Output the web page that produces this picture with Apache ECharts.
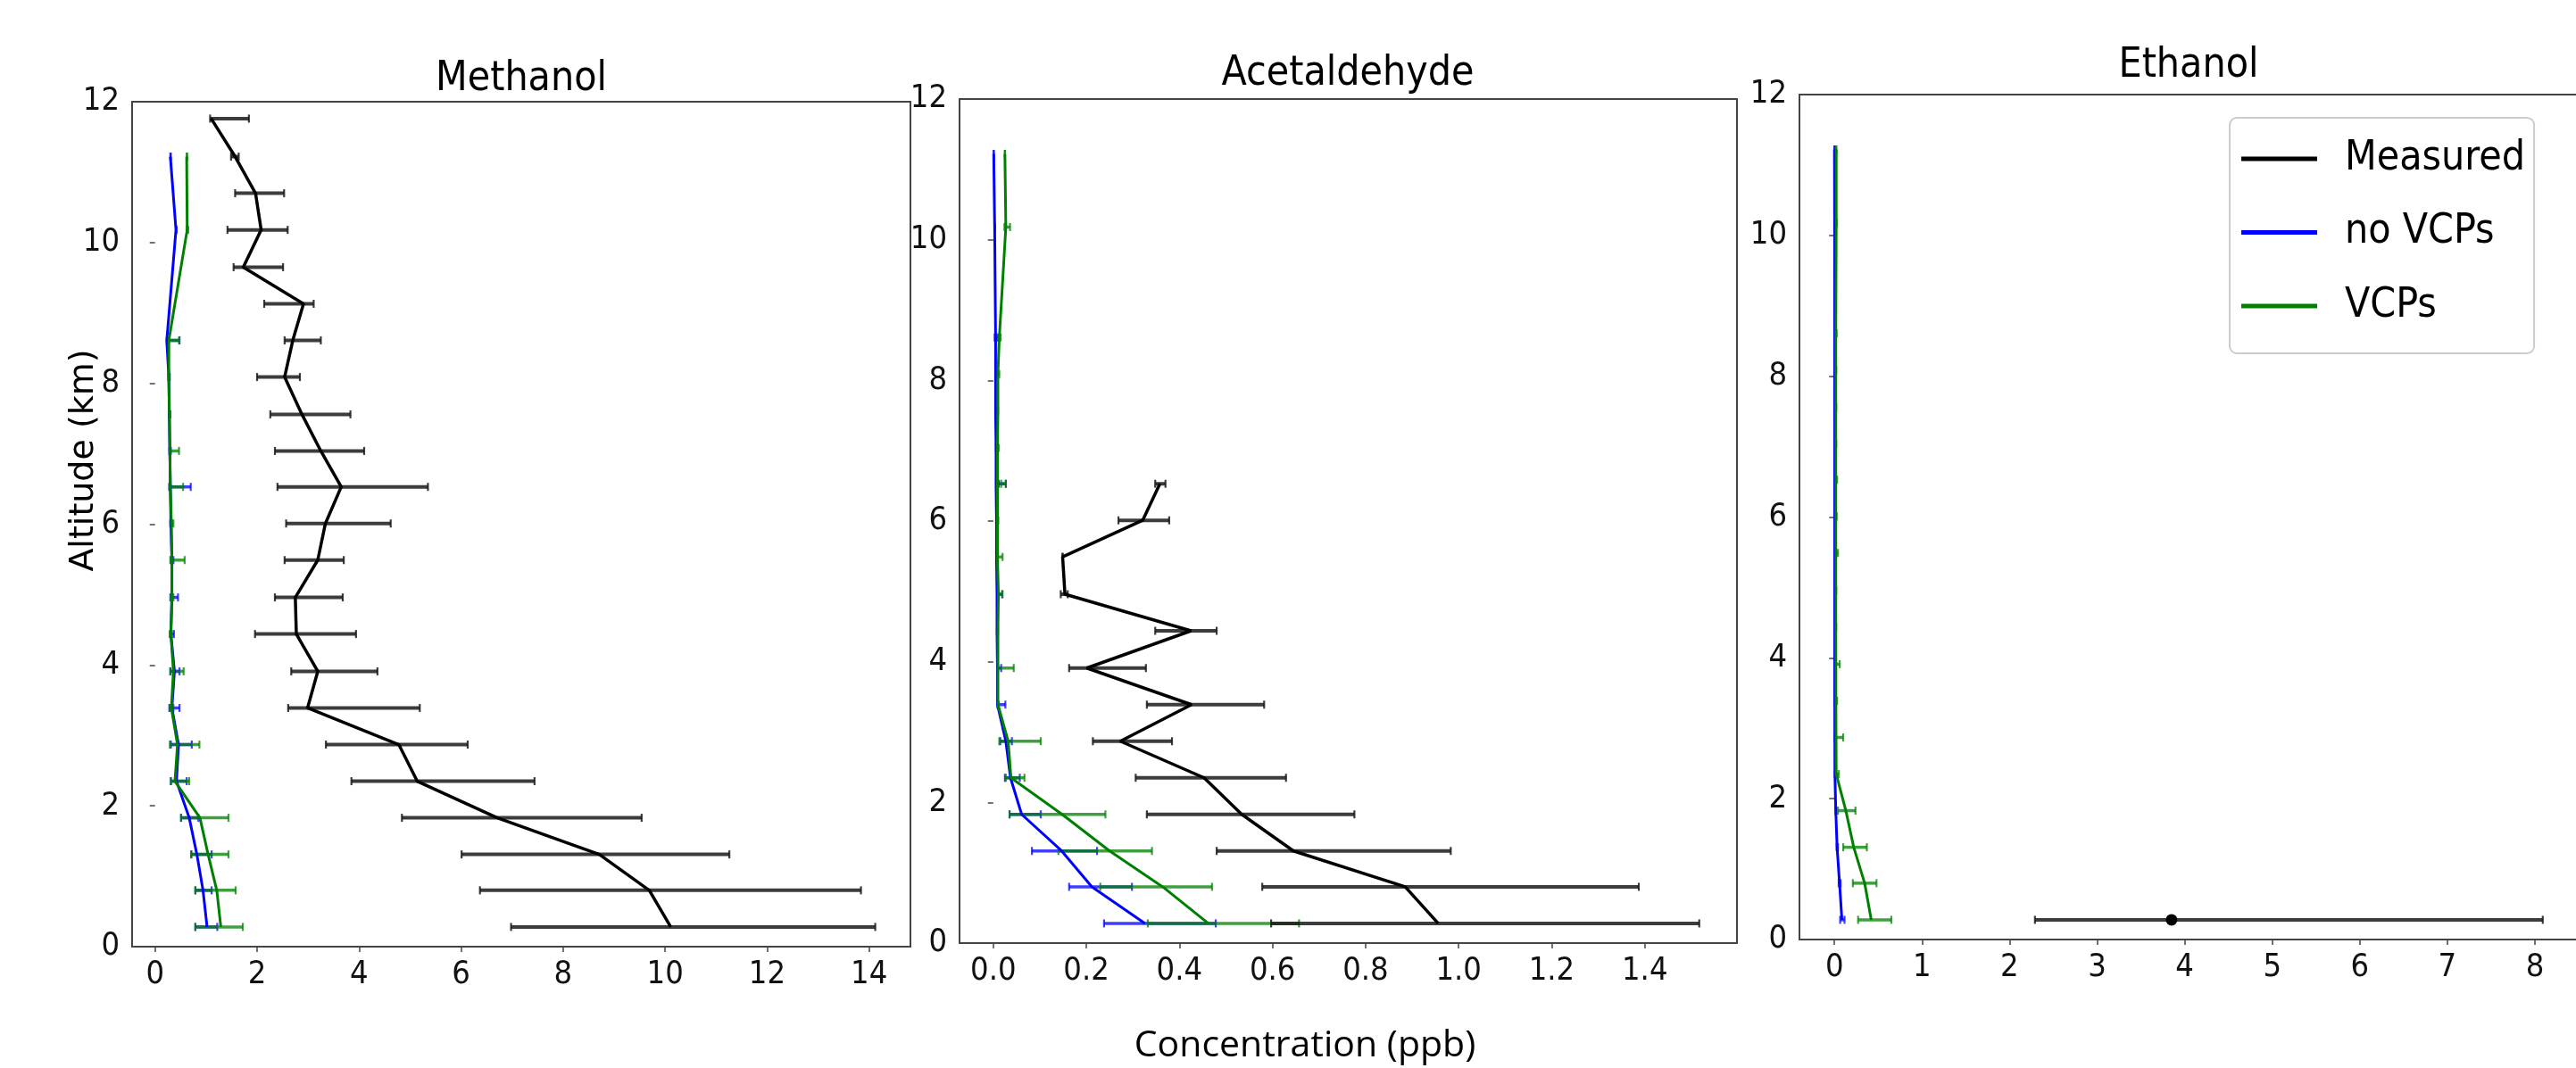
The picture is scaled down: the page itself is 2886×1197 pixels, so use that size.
<!DOCTYPE html>
<html>
<head>
<meta charset="utf-8">
<script src="https://cdn.jsdelivr.net/npm/echarts@6/dist/echarts.min.js"></script>
<style>
html,body{margin:0;padding:0;background:#fff;}
#chart{width:2886px;height:1197px;}
</style>
</head>
<body>
<div id="chart"></div>
<script>
// ---------------- data (altitude in km, concentration in ppb) ----------------
const altMeasured = [0.28, 0.80, 1.31, 1.83, 2.35, 2.87, 3.39, 3.91, 4.44, 4.96, 5.49, 6.01, 6.53, 7.04, 7.56, 8.09, 8.61, 9.13, 9.65, 10.18, 10.70, 11.22, 11.76];
const altModel = [0.28, 0.80, 1.31, 1.83, 2.35, 2.87, 3.39, 3.91, 4.44, 4.96, 5.49, 6.01, 6.53, 7.04, 7.56, 8.09, 8.61, 10.18, 11.22];
const altEthanolMeasured = [0.28];

// Methanol
const methMeas   = [10.11, 9.69, 8.71, 6.71, 5.14, 4.78, 2.99, 3.19, 2.77, 2.75, 3.19, 3.34, 3.65, 3.25, 2.88, 2.54, 2.70, 2.91, 1.73, 2.08, 1.97, 1.57, 1.10];
const methMeasLo = [6.98, 6.37, 6.01, 4.84, 3.85, 3.35, 2.61, 2.67, 1.96, 2.35, 2.54, 2.57, 2.40, 2.35, 2.26, 2.00, 2.54, 2.14, 1.54, 1.42, 1.57, 1.49, 1.08];
const methMeasHi = [14.12, 13.84, 11.26, 9.54, 7.44, 6.13, 5.19, 4.36, 3.94, 3.68, 3.70, 4.62, 5.35, 4.10, 3.83, 2.84, 3.25, 3.11, 2.51, 2.60, 2.53, 1.64, 1.84];
const methNoVCP   = [1.02, 0.94, 0.82, 0.67, 0.42, 0.46, 0.33, 0.38, 0.31, 0.33, 0.33, 0.31, 0.30, 0.29, 0.28, 0.27, 0.23, 0.41, 0.30];
const methNoVCPLo = [0.79, 0.79, 0.71, 0.51, 0.31, 0.31, 0.28, 0.30, 0.29, 0.30, 0.31, 0.30, 0.28, 0.28, 0.27, 0.26, 0.23, 0.41, 0.30];
const methNoVCPHi = [1.22, 1.11, 1.11, 0.85, 0.62, 0.72, 0.48, 0.48, 0.37, 0.45, 0.36, 0.33, 0.70, 0.31, 0.29, 0.28, 0.48, 0.42, 0.31];
const methVCP   = [1.29, 1.21, 1.04, 0.88, 0.39, 0.44, 0.32, 0.36, 0.31, 0.33, 0.33, 0.32, 0.30, 0.29, 0.28, 0.27, 0.27, 0.63, 0.62];
const methVCPLo = [0.79, 0.79, 0.71, 0.51, 0.31, 0.29, 0.30, 0.30, 0.30, 0.31, 0.30, 0.30, 0.28, 0.29, 0.28, 0.27, 0.27, 0.62, 0.62];
const methVCPHi = [1.72, 1.58, 1.44, 1.44, 0.67, 0.87, 0.36, 0.56, 0.33, 0.36, 0.58, 0.36, 0.55, 0.47, 0.30, 0.29, 0.47, 0.65, 0.63];

// Acetaldehyde
const acetMeas   = [0.956, 0.885, 0.645, 0.534, 0.453, 0.273, 0.426, 0.201, 0.425, 0.154, 0.149, 0.321, 0.358];
const acetMeasLo = [0.597, 0.578, 0.480, 0.330, 0.306, 0.214, 0.330, 0.163, 0.348, 0.145, 0.149, 0.269, 0.348];
const acetMeasHi = [1.517, 1.387, 0.983, 0.776, 0.629, 0.384, 0.582, 0.328, 0.480, 0.160, 0.149, 0.378, 0.370];
const acetNoVCP   = [0.326, 0.212, 0.147, 0.061, 0.037, 0.027, 0.009, 0.009, 0.008, 0.008, 0.007, 0.007, 0.006, 0.006, 0.005, 0.005, 0.005, 0.003, 0.001];
const acetNoVCPLo = [0.238, 0.163, 0.083, 0.035, 0.025, 0.015, 0.009, 0.010, 0.008, 0.009, 0.007, 0.007, 0.012, 0.006, 0.005, 0.005, 0.003, 0.003, 0.001];
const acetNoVCPHi = [0.478, 0.298, 0.223, 0.102, 0.057, 0.040, 0.026, 0.017, 0.009, 0.019, 0.008, 0.008, 0.027, 0.006, 0.005, 0.005, 0.009, 0.003, 0.001];
const acetVCP   = [0.462, 0.364, 0.250, 0.148, 0.038, 0.032, 0.010, 0.010, 0.010, 0.011, 0.009, 0.009, 0.009, 0.009, 0.010, 0.010, 0.013, 0.027, 0.025];
const acetVCPLo = [0.332, 0.230, 0.140, 0.035, 0.027, 0.013, 0.010, 0.010, 0.010, 0.011, 0.009, 0.009, 0.017, 0.009, 0.010, 0.009, 0.011, 0.024, 0.025];
const acetVCPHi = [0.657, 0.470, 0.341, 0.241, 0.067, 0.102, 0.012, 0.044, 0.010, 0.020, 0.020, 0.011, 0.027, 0.012, 0.010, 0.013, 0.016, 0.036, 0.025];

// Ethanol
const ethMeas   = [3.85];
const ethMeasLo = [2.29];
const ethMeasHi = [8.09];
const ethNoVCP   = [0.085, 0.058, 0.030, 0.015, 0.005, 0.004, 0.003, 0.003, 0.003, 0.003, 0.003, 0.003, 0.003, 0.003, 0.002, 0.002, 0.002, 0.002, 0.000];
const ethNoVCPLo = [0.065, 0.048, 0.025, 0.012, 0.004, 0.003, 0.003, 0.003, 0.003, 0.003, 0.003, 0.003, 0.003, 0.003, 0.002, 0.002, 0.002, 0.002, 0.000];
const ethNoVCPHi = [0.115, 0.070, 0.040, 0.020, 0.008, 0.006, 0.004, 0.005, 0.004, 0.004, 0.004, 0.004, 0.004, 0.004, 0.003, 0.003, 0.003, 0.003, 0.000];
const ethVCP   = [0.42, 0.345, 0.22, 0.13, 0.02, 0.018, 0.016, 0.016, 0.015, 0.015, 0.015, 0.015, 0.015, 0.015, 0.015, 0.015, 0.015, 0.02, 0.02];
const ethVCPLo = [0.27, 0.21, 0.10, 0.04, 0.015, 0.015, 0.014, 0.012, 0.014, 0.014, 0.014, 0.012, 0.012, 0.014, 0.014, 0.014, 0.012, 0.018, 0.02];
const ethVCPHi = [0.65, 0.48, 0.37, 0.24, 0.05, 0.10, 0.03, 0.06, 0.02, 0.02, 0.04, 0.025, 0.03, 0.02, 0.02, 0.02, 0.025, 0.025, 0.02];

// tick labels
const altitudeTicks = [0, 2, 4, 6, 8, 10, 12];
const methanolTicks = [0, 2, 4, 6, 8, 10, 12, 14];
const acetaldehydeTicks = [0, 0.2, 0.4, 0.6, 0.8, 1.0, 1.2, 1.4];
const ethanolTicks = [0, 1, 2, 3, 4, 5, 6, 7, 8];

const panelTitles = ['Methanol', 'Acetaldehyde', 'Ethanol'];
const seriesNames = ['Measured', 'no VCPs', 'VCPs'];

// ---------------- styling ----------------
function hasFont(f) {
  const c = document.createElement('canvas').getContext('2d');
  c.font = '40px monospace';
  const w0 = c.measureText('Methanol 0123456789').width;
  c.font = "40px '" + f + "', monospace";
  return c.measureText('Methanol 0123456789').width !== w0;
}
const COND = hasFont('DejaVu Sans Condensed')
  ? "'DejaVu Sans Condensed', 'Liberation Sans', sans-serif"
  : "'Liberation Sans', 'DejaVu Sans', sans-serif";
const C_MEAS = '#000000', C_NO = '#0000ff', C_VCP = '#008000';
const FRAME = '#444444';

const chart = echarts.init(document.getElementById('chart'), null, {renderer: 'canvas'});

function zip(xs, ys) { return xs.map((x, i) => [x, ys[i]]); }
function bars(lo, hi, ys) { return lo.map((l, i) => [l, hi[i], ys[i]]); }

function errRender(color, opacity, lw) {
  return function (params, api) {
    const a = api.coord([api.value(0), api.value(2)]);
    const b = api.coord([api.value(1), api.value(2)]);
    const cap = 4.5;
    const st = {stroke: color, lineWidth: lw, opacity: opacity};
    const cs = {stroke: color, lineWidth: 2.2, opacity: opacity};
    return {
      type: 'group',
      children: [
        {type: 'line', shape: {x1: a[0], y1: a[1], x2: b[0], y2: b[1]}, style: st},
        {type: 'line', shape: {x1: a[0], y1: a[1] - cap, x2: a[0], y2: a[1] + cap}, style: cs},
        {type: 'line', shape: {x1: b[0], y1: b[1] - cap, x2: b[0], y2: b[1] + cap}, style: cs}
      ]
    };
  };
}

const panels = [
  {grid: {left: 148, top: 114, width: 872, height: 947}, xmin: -0.45, xmax: 14.81, ticks: methanolTicks, fmt: v => String(v),
   altM: altMeasured, meas: methMeas, mLo: methMeasLo, mHi: methMeasHi,
   no: methNoVCP, noLo: methNoVCPLo, noHi: methNoVCPHi, vcp: methVCP, vLo: methVCPLo, vHi: methVCPHi},
  {grid: {left: 1075, top: 111, width: 871, height: 946}, xmin: -0.0725, xmax: 1.598, ticks: acetaldehydeTicks, fmt: v => Number(v).toFixed(1),
   altM: altMeasured.slice(0, acetMeas.length), meas: acetMeas, mLo: acetMeasLo, mHi: acetMeasHi,
   no: acetNoVCP, noLo: acetNoVCPLo, noHi: acetNoVCPHi, vcp: acetVCP, vLo: acetVCPLo, vHi: acetVCPHi},
  {grid: {left: 2016, top: 106, width: 873, height: 947}, xmin: -0.40, xmax: 8.50, ticks: ethanolTicks, fmt: v => String(v),
   altM: altEthanolMeasured, meas: ethMeas, mLo: ethMeasLo, mHi: ethMeasHi,
   no: ethNoVCP, noLo: ethNoVCPLo, noHi: ethNoVCPHi, vcp: ethVCP, vLo: ethVCPLo, vHi: ethVCPHi}
];

const grids = [], xAxes = [], yAxes = [], series = [];
panels.forEach((p, k) => {
  grids.push(Object.assign({show: true, borderColor: FRAME, borderWidth: 2, backgroundColor: 'transparent', containLabel: false, outerBoundsMode: 'none'}, p.grid));
  xAxes.push({
    type: 'value', gridIndex: k, min: p.xmin, max: p.xmax,
    axisLine: {show: false},
    axisTick: {show: true, length: 6, lineStyle: {color: FRAME, width: 1.5}, customValues: p.ticks},
    axisLabel: {show: true, customValues: p.ticks, formatter: p.fmt, margin: 14, color: '#111', fontSize: 36, fontFamily: COND},
    splitLine: {show: false}
  });
  yAxes.push({
    type: 'value', gridIndex: k, min: 0, max: 12, interval: 2,
    axisLine: {show: false},
    axisTick: {show: true, length: 6, lineStyle: {color: FRAME, width: 1.5}},
    axisLabel: {show: true, margin: 14, color: '#111', fontSize: 36, fontFamily: COND},
    splitLine: {show: false}
  });
  // error bars
  series.push({type: 'custom', name: 'errNo' + k, xAxisIndex: k, yAxisIndex: k, z: 2, silent: true,
    renderItem: errRender(C_NO, 0.75, 3.5), encode: {x: [0, 1], y: 2}, data: bars(p.noLo, p.noHi, altModel)});
  series.push({type: 'custom', name: 'errVcp' + k, xAxisIndex: k, yAxisIndex: k, z: 2, silent: true,
    renderItem: errRender(C_VCP, 0.75, 3.5), encode: {x: [0, 1], y: 2}, data: bars(p.vLo, p.vHi, altModel)});
  series.push({type: 'custom', name: 'errMeas' + k, xAxisIndex: k, yAxisIndex: k, z: 2, silent: true,
    renderItem: errRender('#1a1a1a', 0.85, 4), encode: {x: [0, 1], y: 2}, data: bars(p.mLo, p.mHi, p.altM)});
  // lines
  series.push({type: 'line', name: 'no VCPs', xAxisIndex: k, yAxisIndex: k, z: 3,
    data: zip(p.no, altModel), symbol: 'none', color: C_NO,
    lineStyle: {color: C_NO, width: 3}, itemStyle: {color: C_NO}});
  series.push({type: 'line', name: 'VCPs', xAxisIndex: k, yAxisIndex: k, z: 3,
    data: zip(p.vcp, altModel), symbol: 'none', color: C_VCP,
    lineStyle: {color: C_VCP, width: 3}, itemStyle: {color: C_VCP}});
  const single = p.meas.length === 1;
  series.push({type: 'line', name: 'Measured', xAxisIndex: k, yAxisIndex: k, z: 4,
    data: zip(p.meas, p.altM), symbol: single ? 'circle' : 'none', symbolSize: 13, showSymbol: single, color: C_MEAS,
    lineStyle: {color: C_MEAS, width: 3.5}, itemStyle: {color: C_MEAS}});
});

const titleX = [584, 1510, 2452];
const titleY = [89, 83, 74];

const graphics = panelTitles.map((t, i) => ({
  type: 'text', x: titleX[i], y: titleY[i], silent: true,
  style: {text: t, fill: '#000', font: '46px ' + COND, textAlign: 'center', textVerticalAlign: 'middle'}
}));
graphics.push({
  type: 'text', x: 94, y: 516, rotation: Math.PI / 2, silent: true,
  style: {text: 'Altitude (km)', fill: '#000', font: '38px "DejaVu Sans", sans-serif', textAlign: 'center', textVerticalAlign: 'middle'}
});
graphics.push({
  type: 'text', x: 1462, y: 1172, silent: true,
  style: {text: 'Concentration (ppb)', fill: '#000', font: '41px "Open Sans", "Lato", sans-serif', textAlign: 'center', textVerticalAlign: 'middle'}
});

chart.setOption({
  animation: false,
  backgroundColor: '#ffffff',
  grid: grids,
  xAxis: xAxes,
  yAxis: yAxes,
  legend: {
    show: true, selectedMode: false, orient: 'vertical',
    left: 2498, top: 132,
    icon: 'rect', itemWidth: 85, itemHeight: 5, itemGap: 36.5,
    padding: [23, 10, 30, 13],
    borderColor: '#cccccc', borderWidth: 2, borderRadius: 8, backgroundColor: '#ffffff',
    textStyle: {color: '#000', fontSize: 46, fontFamily: COND, padding: [0, 0, 0, 26]},
    data: seriesNames
  },
  graphic: graphics,
  series: series
});
</script>
</body>
</html>
